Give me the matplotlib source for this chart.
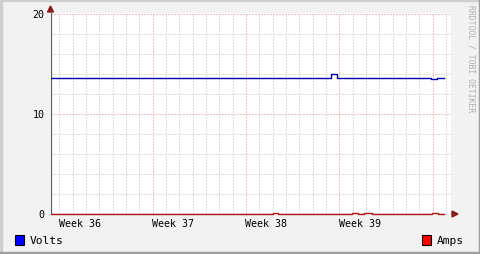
import matplotlib
matplotlib.use("Agg")
import matplotlib.pyplot as plt
from matplotlib.patches import Rectangle, Polygon
from matplotlib.lines import Line2D

# ---- data (time in days from left edge of graph) ----
volt_t = [0.0, 21.06, 21.51, 28.54, 28.99, 29.54]
volt_v = [13.6, 14.0, 13.6, 13.47, 13.6, 13.6]
amp_t = [0.0, 16.69, 17.04, 22.59, 23.04, 23.52, 24.09, 28.59, 29.04, 29.54]
amp_v = [0.0, 0.12, 0.0, 0.12, 0.0, 0.12, 0.0, 0.12, 0.0, 0.0]
week_pos = [2.2, 9.2, 16.2, 23.2]
week_labels = ["Week 36", "Week 37", "Week 38", "Week 39"]
y_ticks = [0, 10, 20]
series_names = ["Volts", "Amps"]
series_colors = ["#0000ff", "#ff0000"]

W, H = 481, 255
DPI = 100
MONO = "DejaVu Sans Mono"

fig = plt.figure(figsize=(W / DPI, H / DPI), dpi=DPI)
fig.patch.set_facecolor("#f2f2f2")

def fx(px):
    return px / W

def fy(py):
    return 1 - py / H

# frame shading
fig.patches.append(Rectangle((0, fy(2)), 1, 2 / H, transform=fig.transFigure, color="#cfcfcf", zorder=0))
fig.patches.append(Rectangle((0, 0), 2 / W, 1, transform=fig.transFigure, color="#cfcfcf", zorder=0))
fig.patches.append(Rectangle((0, 0), 1, 2 / H, transform=fig.transFigure, color="#9e9e9e", zorder=0))
fig.patches.append(Rectangle((1 - 2 / W, 0), 2 / W, 1, transform=fig.transFigure, color="#9e9e9e", zorder=0))

# axes: x from 50.5 to 451, y from 14 to 215
x0, x1 = 50.5, 451.0
y0, y1 = 14.0, 215.0
ax = fig.add_axes([fx(x0), fy(y1), (x1 - x0) / W, (y1 - y0) / H])
PX_PER_DAY = 13.333
PX_PER_UNIT = 10.0
ax.set_xlim(0, (x1 - x0) / PX_PER_DAY)
ax.set_ylim(0, (y1 - y0) / PX_PER_UNIT)
ax.set_facecolor("white")
for s in ax.spines.values():
    s.set_visible(False)
ax.set_xticks([])
ax.set_yticks([])

# grid
dash = (0, (1, 2))
lw = 0.72
day_offset = 0.67
d = day_offset
while d < 30:
    major = abs(((d - day_offset) % 7)) < 1e-6 and d > 1
    ax.axvline(d, color="#e08888" if major else "#bdbdbd", lw=lw, linestyle=dash, zorder=1)
    d += 1.0
for v in range(2, 21, 2):
    major = v % 10 == 0
    ax.axhline(v, color="#e08888" if major else "#bdbdbd", lw=lw, linestyle=dash, zorder=1)

# series
ax.plot(volt_t, volt_v, drawstyle="steps-post", color="#0000a8", lw=1.0, zorder=4)
ax.plot(amp_t, amp_v, drawstyle="steps-post", color="#b01818", lw=1.0, zorder=4, clip_on=False)

# axes lines with arrows
ax.add_line(Line2D([fx(x0), fx(x0)], [fy(215), fy(10)], transform=fig.transFigure, color="#606060", lw=0.9, zorder=3))
ax.add_line(Line2D([fx(47), fx(454)], [fy(215), fy(215)], transform=fig.transFigure, color="#606060", lw=0.9, zorder=3))
fig.patches.append(Polygon([[fx(47.5), fy(13)], [fx(53.5), fy(13)], [fx(50.5), fy(7)]], closed=True,
                           transform=fig.transFigure, color="#8b1a1a", zorder=5))
fig.patches.append(Polygon([[fx(452), fy(212)], [fx(452), fy(218)], [fx(458), fy(215)]], closed=True,
                           transform=fig.transFigure, color="#8b1a1a", zorder=5))

# tick labels
for v in y_ticks:
    fig.text(fx(44.5), fy(215 - v * PX_PER_UNIT), str(v), ha="right", va="center",
             family=MONO, fontsize=7.2, color="#000000")
for p, lab in zip(week_pos, week_labels):
    fig.text(fx(x0 + p * PX_PER_DAY), fy(224.5), lab, ha="center", va="center",
             family=MONO, fontsize=7.2, color="#000000")

# legend
fig.patches.append(Rectangle((fx(15), fy(246)), 9 / W, 10 / H, transform=fig.transFigure,
                             facecolor=series_colors[0], edgecolor="black", lw=0.8, zorder=5))
fig.text(fx(30), fy(241), series_names[0], ha="left", va="center", family=MONO, fontsize=8.1)
fig.patches.append(Rectangle((fx(422.5), fy(246)), 9 / W, 10 / H, transform=fig.transFigure,
                             facecolor=series_colors[1], edgecolor="black", lw=0.8, zorder=5))
fig.text(fx(437), fy(241), series_names[1], ha="left", va="center", family=MONO, fontsize=8.1)

# watermark
fig.text(fx(471), fy(5), "RRDTOOL / TOBI OETIKER", rotation=270, ha="center", va="top",
         family=MONO, fontsize=5.8, color="#b0b0b0")

fig.savefig("out.png", dpi=DPI, facecolor=fig.get_facecolor())
